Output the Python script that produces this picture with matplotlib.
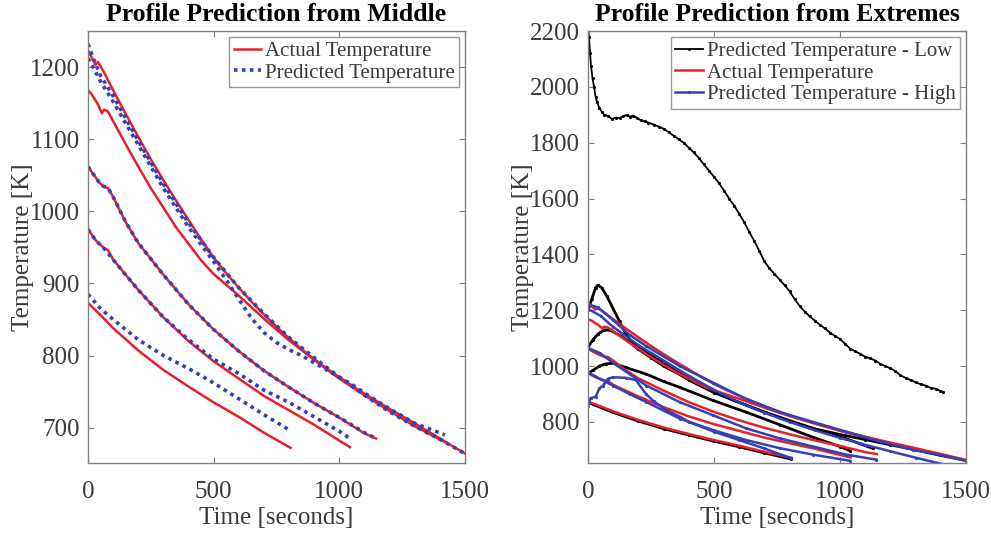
import numpy as np
import matplotlib.pyplot as plt

plt.rcParams['font.family'] = ['Liberation Serif', 'DejaVu Serif']

RED = '#e8202a'
BLUE = '#3340b8'
GRAY = '#808080'
TXT = '#3a3a3a'

# actual temperature curves (shared by both panels)
t_act_a = [0, 15, 30, 40, 60, 100, 150, 200, 250, 300, 350, 400, 450, 500, 550, 600, 650, 700,
           750, 800, 850, 900, 950, 1000, 1100, 1200, 1300, 1400, 1500]
T_act_a = [1223, 1213, 1203, 1207, 1195, 1168, 1135, 1103, 1072, 1043, 1015, 988, 961, 936, 914,
           894, 875, 857, 840, 824, 809, 795, 782, 770, 747, 726, 706, 685, 664]
t_act_b = [0, 15, 40, 55, 65, 80, 100, 150, 200, 250, 300, 350, 400, 450, 500, 600, 700, 800,
           900, 1000, 1100, 1200, 1300, 1420]
T_act_b = [1168, 1162, 1148, 1136, 1141, 1138, 1125, 1093, 1062, 1032, 1005, 978, 955, 932, 913,
           883, 851, 821, 794, 768, 745, 723, 702, 680]
t_act_c = [0, 20, 45, 60, 80, 100, 150, 200, 300, 400, 500, 600, 700, 800, 900, 1000, 1100, 1146]
T_act_c = [1062, 1052, 1040, 1035, 1032, 1020, 985, 956, 912, 871, 836, 806, 779, 756, 734, 714,
           692, 685]
t_act_d = [0, 30, 60, 80, 100, 200, 300, 400, 500, 600, 700, 800, 900, 1000, 1042]
T_act_d = [975, 960, 950, 946, 933, 891, 853, 820, 792, 768, 744, 724, 704, 682, 673]
t_act_e = [0, 50, 100, 200, 300, 400, 500, 600, 700, 806]
T_act_e = [873, 856, 838, 807, 780, 757, 735, 715, 693, 672]

# predicted from middle (left panel)
t_mid_a = [0, 20, 50, 100, 200, 300, 400, 500, 600, 700, 800, 900, 1000, 1100, 1200, 1300, 1400, 1500]
T_mid_a = [1232, 1213, 1188, 1160, 1098, 1038, 984, 936, 894, 858, 825, 797, 770, 745, 722, 702, 684, 664]
t_mid_b = [0, 20, 50, 100, 200, 300, 400, 500, 550, 600, 650, 700, 750, 800, 850, 900, 950,
           1000, 1050, 1100, 1200, 1300, 1420]
T_mid_b = [1212, 1200, 1180, 1152, 1092, 1032, 978, 930, 905, 878, 852, 832, 818, 808, 800, 790,
           780, 770, 760, 748, 726, 706, 690]
t_mid_c = [0, 20, 45, 60, 80, 100, 150, 200, 300, 400, 500, 600, 700, 800, 900, 1000, 1100, 1146]
T_mid_c = [1062, 1052, 1040, 1035, 1032, 1020, 985, 956, 912, 871, 836, 806, 779, 756, 734, 714,
           693, 685]
t_mid_d = [0, 30, 60, 100, 200, 300, 400, 500, 600, 700, 800, 900, 1000, 1042]
T_mid_d = [975, 960, 950, 933, 891, 853, 822, 795, 775, 752, 735, 715, 695, 685]
t_mid_e = [0, 50, 100, 200, 300, 400, 500, 600, 700, 800]
T_mid_e = [885, 865, 850, 822, 800, 782, 762, 740, 718, 697]

# predicted from extremes - low (black)
t_low_1 = [0, 4, 8, 12, 18, 24, 30, 36, 45, 55, 65, 80, 95, 110, 125, 140, 155, 165, 180, 195,
           210, 225, 240, 260, 280, 300, 320, 340, 360, 380, 400, 420, 440, 460, 480, 500, 520,
           540, 560, 580, 600, 620, 640, 660, 680, 700, 720, 740, 760, 780, 800, 820, 840, 860,
           880, 900, 920, 940, 960, 980, 1000, 1020, 1040, 1060, 1080, 1100, 1120, 1140, 1160,
           1180, 1200, 1220, 1240, 1260, 1280, 1300, 1320, 1340, 1360, 1380, 1395, 1410]
T_low_1 = [2200, 2180, 2120, 2075, 2030, 2000, 1965, 1945, 1925, 1910, 1900, 1895, 1885, 1890,
           1888, 1895, 1900, 1893, 1897, 1888, 1880, 1876, 1872, 1865, 1858, 1850, 1838, 1825,
           1812, 1800, 1782, 1765, 1745, 1722, 1700, 1678, 1655, 1628, 1600, 1575, 1545, 1515,
           1480, 1448, 1412, 1375, 1350, 1330, 1310, 1290, 1268, 1240, 1215, 1195, 1178, 1163,
           1148, 1135, 1120, 1108, 1097, 1080, 1063, 1053, 1044, 1033, 1028, 1020, 1008, 1000,
           992, 982, 967, 958, 950, 942, 935, 930, 922, 919, 912, 908]
t_low_2 = [0, 15, 30, 40, 55, 75, 100, 125, 150, 175, 200, 250, 300, 400, 500, 600, 700, 800,
           900, 1000, 1100, 1200, 1300, 1400, 1500]
T_low_2 = [1200, 1240, 1280, 1290, 1280, 1250, 1205, 1160, 1115, 1085, 1068, 1040, 1010, 955,
           908, 870, 835, 805, 775, 755, 737, 718, 700, 680, 662]
t_low_3 = [0, 20, 40, 65, 90, 130, 165, 200, 250, 300, 364, 400, 500, 628, 761, 893, 1025, 1131]
T_low_3 = [1068, 1095, 1115, 1130, 1128, 1108, 1085, 1060, 1030, 1000, 970, 950, 905, 860, 815,
           775, 740, 705]
t_low_4 = [0, 20, 45, 70, 100, 150, 232, 300, 364, 496, 628, 761, 893, 1000, 1039]
T_low_4 = [975, 985, 1000, 1008, 1010, 995, 971, 945, 924, 877, 835, 790, 745, 712, 697]
t_low_5 = [0, 100, 200, 300, 400, 500, 600, 700, 807]
T_low_5 = [870, 834, 803, 776, 753, 731, 711, 689, 667]

# predicted from extremes - high (blue)
t_high_a = [0, 20, 33, 40, 99, 165, 232, 364, 496, 628, 761, 893, 1025, 1158, 1290, 1422, 1500]
T_high_a = [1226, 1215, 1212, 1210, 1165, 1112, 1071, 1000, 941, 882, 835, 800, 765, 730, 700,
            677, 661]
t_high_b = [0, 50, 100, 200, 300, 400, 500, 600, 700, 800, 900, 1000, 1100, 1200, 1300, 1402]
T_high_b = [1205, 1180, 1140, 1075, 1020, 965, 915, 870, 833, 800, 770, 743, 718, 695, 672, 650]
t_high_c = [0, 46, 99, 232, 364, 496, 628, 761, 893, 1025, 1144]
T_high_c = [1065, 1047, 1012, 930, 871, 824, 777, 741, 712, 683, 665]
t_high_d = [0, 99, 165, 232, 364, 496, 628, 761, 893, 1039]
T_high_d = [977, 930, 900, 871, 812, 771, 735, 706, 683, 661]
t_high_e = [0, 10, 30, 45, 60, 80, 100, 150, 190, 230, 260, 311, 364, 400, 500, 600, 700, 806]
T_high_e = [858, 885, 890, 920, 930, 955, 960, 958, 950, 900, 875, 842, 819, 800, 765, 735, 705, 670]

fig = plt.figure(figsize=(9.91, 5.33), dpi=100)
ax1 = fig.add_axes([88 / 991, 70 / 533, 377 / 991, 432 / 533])
ax2 = fig.add_axes([588 / 991, 70 / 533, 378 / 991, 432 / 533])

# left panel
act = [(t_act_a, T_act_a), (t_act_b, T_act_b), (t_act_c, T_act_c), (t_act_d, T_act_d), (t_act_e, T_act_e)]
mid = [(t_mid_a, T_mid_a), (t_mid_b, T_mid_b), (t_mid_c, T_mid_c), (t_mid_d, T_mid_d), (t_mid_e, T_mid_e)]
for i, (t, T) in enumerate(act):
    ax1.plot(t, T, color=RED, lw=1.8, label='Actual Temperature' if i == 0 else None)
for i, (t, T) in enumerate(mid):
    ax1.plot(t, T, color=BLUE, lw=2.6, ls=(0, (1, 1.2)),
             label='Predicted Temperature' if i == 0 else None)

# right panel
low = [(t_low_1, T_low_1), (t_low_2, T_low_2), (t_low_3, T_low_3), (t_low_4, T_low_4), (t_low_5, T_low_5)]
high = [(t_high_a, T_high_a), (t_high_b, T_high_b), (t_high_c, T_high_c), (t_high_d, T_high_d),
        (t_high_e, T_high_e)]
for i, (t, T) in enumerate(low):
    ax2.plot(t, T, color='black', lw=2.0 if i else 1.3, marker='.', ms=2.5,
             label='Predicted Temperature - Low' if i == 0 else None)
for i, (t, T) in enumerate(act):
    ax2.plot(t, T, color=RED, lw=1.8, label='Actual Temperature' if i == 0 else None)
for i, (t, T) in enumerate(high):
    ax2.plot(t, T, color=BLUE, lw=1.8, marker='.', ms=2.5,
             label='Predicted Temperature - High' if i == 0 else None)

ax1.set_ylim(651, 1250)
ax1.set_yticks([700, 800, 900, 1000, 1100, 1200])
ax1.set_title('Profile Prediction from Middle', fontsize=18.5, fontweight='bold', pad=7)
ax2.set_ylim(653, 2200)
ax2.set_yticks([800, 1000, 1200, 1400, 1600, 1800, 2000, 2200])
ax2.set_title('Profile Prediction from Extremes', fontsize=18.5, fontweight='bold', pad=7)

for ax in (ax1, ax2):
    ax.set_xlim(0, 1500)
    ax.set_xticks([0, 500, 1000, 1500])
    ax.set_xlabel('Time [seconds]', fontsize=18, color=TXT, labelpad=3)
    ax.set_ylabel('Temperature [K]', fontsize=18, color=TXT, labelpad=-3)
    ax.tick_params(direction='in', top=True, right=True, length=4, width=0.8,
                   colors=GRAY, labelcolor=TXT, labelsize=18, pad=6)
    ax.tick_params(axis='x', pad=13)
    for s in ax.spines.values():
        s.set_color(GRAY)
        s.set_linewidth(1)
    leg = ax.legend(loc='upper right', fontsize=15, frameon=True, fancybox=False,
                    borderaxespad=0.3, handlelength=1.3, handletextpad=0.2,
                    borderpad=0.2, labelspacing=0.1)
    leg.get_frame().set_edgecolor(GRAY)
    leg.get_frame().set_linewidth(1)
    for txt in leg.get_texts():
        txt.set_color(TXT)

fig.savefig('out.png', dpi=100)
